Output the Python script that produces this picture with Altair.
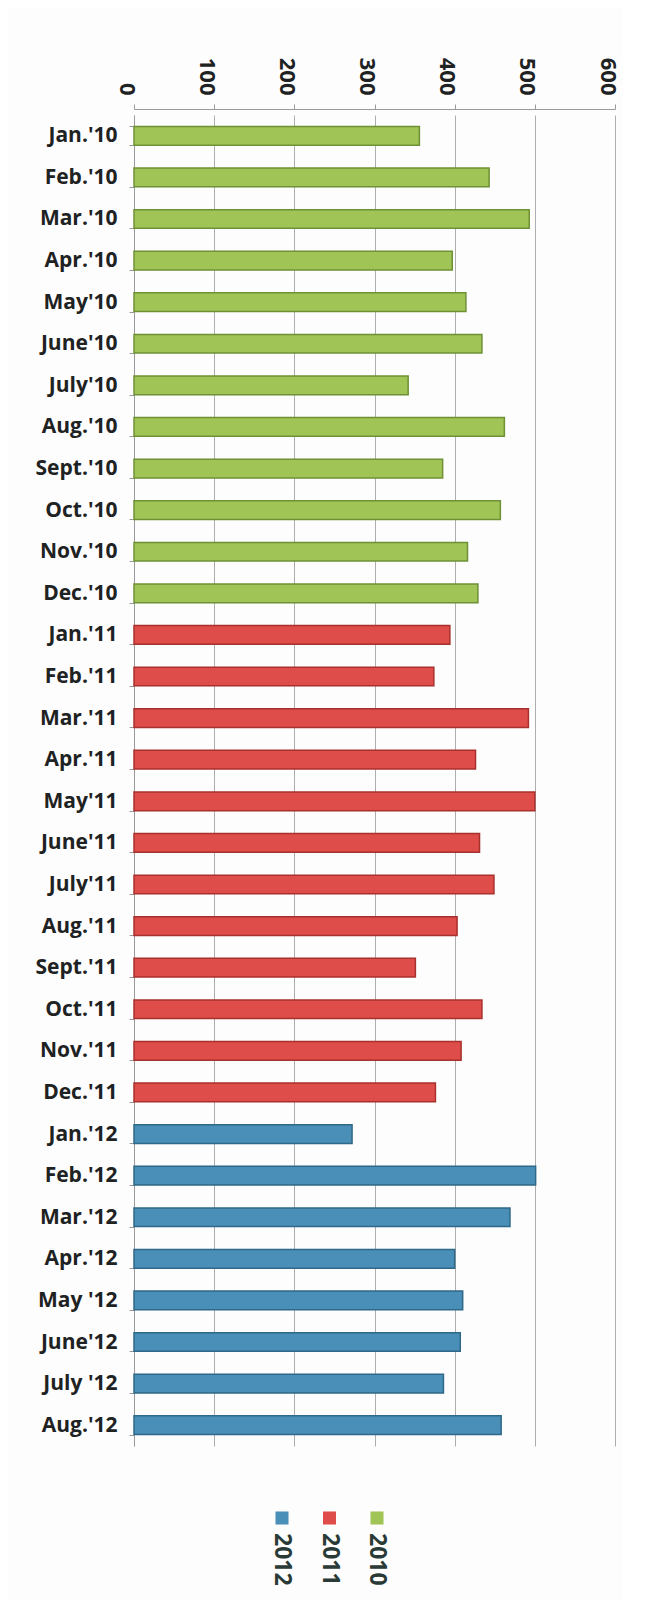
import altair as alt
import pandas as pd

months = ["Jan.'10", "Feb.'10", "Mar.'10", "Apr.'10", "May'10", "June'10", "July'10",
          "Aug.'10", "Sept.'10", "Oct.'10", "Nov.'10", "Dec.'10",
          "Jan.'11", "Feb.'11", "Mar.'11", "Apr.'11", "May'11", "June'11", "July'11",
          "Aug.'11", "Sept.'11", "Oct.'11", "Nov.'11", "Dec.'11",
          "Jan.'12", "Feb.'12", "Mar.'12", "Apr.'12", "May '12", "June'12", "July '12",
          "Aug.'12"]
values_2010 = [356, 443, 493, 397, 414, 434, 342, 462, 385, 457, 416, 429]
values_2011 = [394, 374, 492, 426, 500, 431, 449, 403, 351, 434, 408, 376]
values_2012 = [272, 501, 469, 400, 410, 407, 386, 458]
years = ["2010", "2011", "2012"]
legend_order = ["2012", "2011", "2010"]
colors = ["#A0C455", "#DE4D49", "#4A8FB7"]
dark_colors = ["#6E9136", "#A8302D", "#2F6888"]

vals = values_2010 + values_2011 + values_2012
yrs = ["2010"] * len(values_2010) + ["2011"] * len(values_2011) + ["2012"] * len(values_2012)
df = pd.DataFrame({"month": months, "value": vals, "year": yrs})

font = "Open Sans"
text_color = "#1E2222"

bars = alt.Chart(df).mark_bar(strokeWidth=1.5).encode(
    y=alt.Y("month:N", sort=months, title=None,
            scale=alt.Scale(paddingInner=0.55, paddingOuter=0.275),
            axis=alt.Axis(labelFont=font, labelFontWeight="bold", labelFontSize=21,
                          labelColor=text_color, labelPadding=12, tickBand="extent",
                          tickSize=5, tickColor="#9A9A9A", domainColor="#9A9A9A",
                          minExtent=121, maxExtent=121, labelLimit=200)),
    x=alt.X("value:Q", title=None,
            scale=alt.Scale(domain=[0, 600]),
            axis=alt.Axis(orient="top", values=[0, 100, 200, 300, 400, 500, 600],
                          labelAngle=90, labelAlign="right", labelBaseline="middle",
                          labelFont=font, labelFontSize=22, labelColor=text_color,
                          labelFontWeight="bold", offset=6,
                          labelPadding=9, tickSize=5, tickColor="#9A9A9A",
                          domainColor="#9A9A9A", gridColor="#AEAEAE", labelOffset=-8,
                          minExtent=96, maxExtent=96)),
    color=alt.Color("year:N", scale=alt.Scale(domain=years, range=colors), legend=None),
    stroke=alt.Stroke("year:N", scale=alt.Scale(domain=years, range=dark_colors), legend=None),
).properties(width=481, height=1331)

leg_df = pd.DataFrame({"year": legend_order})
leg_x = alt.X("year:N", sort=legend_order, scale=alt.Scale(range=[148, 243], padding=0), axis=None)
leg_sq = alt.Chart(leg_df).mark_square(size=170, opacity=1).encode(
    x=leg_x,
    y=alt.value(32),
    color=alt.Color("year:N", scale=alt.Scale(domain=years, range=colors), legend=None),
)
leg_tx = alt.Chart(leg_df).mark_text(angle=90, align="left", baseline="middle",
                                     font=font, fontSize=23, fontWeight="bold",
                                     color="#2A3A36").encode(
    x=leg_x,
    y=alt.value(47),
    text="year:N",
)
legend = alt.layer(leg_sq, leg_tx).properties(width=481, height=110)

chart = alt.vconcat(bars, legend, spacing=40).resolve_scale(
    color="independent", x="independent"
).configure(background="#FDFDFD").configure_view(stroke=None)

chart.save("out.html", embed_options={"renderer": "svg", "actions": False})
